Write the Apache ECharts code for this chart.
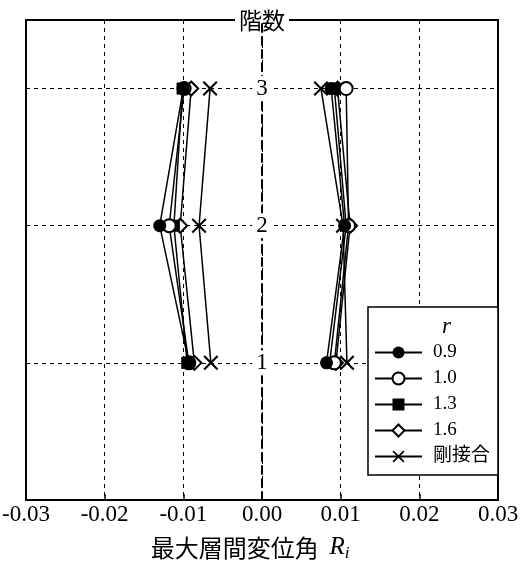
<!DOCTYPE html>
<html>
<head>
<meta charset="utf-8">
<script src="https://cdn.jsdelivr.net/npm/echarts@6/dist/echarts.min.js"></script>
<style>
  html,body{margin:0;padding:0;background:#fff;}
  #chart{width:528px;height:564px;}
</style>
</head>
<body>
<div id="chart"></div>
<script>
// 階数
var stories = [1, 2, 3];
// 左側（負方向）
var r09L = [-0.0093, -0.0130, -0.0100];
var r10L = [-0.0093, -0.0118, -0.0099];
var r13L = [-0.0095, -0.0112, -0.0101];
var r16L = [-0.0086, -0.0104, -0.0090];
var rigidL = [-0.0065, -0.0080, -0.0066];
// 右側（正方向）
var r09R = [0.0082, 0.0105, 0.0088];
var r10R = [0.0092, 0.0110, 0.0107];
var r13R = [0.0086, 0.0107, 0.0092];
var r16R = [0.0094, 0.0112, 0.0096];
var rigidR = [0.0108, 0.0103, 0.0075];

var xTicks = [-0.03, -0.02, -0.01, 0, 0.01, 0.02, 0.03];
var names = ['0.9', '1.0', '1.3', '1.6', '剛接合'];

var crossPath = 'path://M0,1L1,0L5,4L9,0L10,1L6,5L10,9L9,10L5,6L1,10L0,9L4,5Z';
var marks = [
  {symbol: 'circle', fill: '#000', size: 13},
  {symbol: 'circle', fill: '#fff', size: 13},
  {symbol: 'rect', fill: '#000', size: 12},
  {symbol: 'diamond', fill: '#fff', size: 14},
  {symbol: crossPath, fill: '#000', size: 15}
];
var leftSets = [r09L, r10L, r13L, r16L, rigidL];
var rightSets = [r09R, r10R, r13R, r16R, rigidR];

function pts(vals){
  return vals.map(function(v, i){ return [v, stories[i]]; });
}

var series = [];
names.forEach(function(n, k){
  [leftSets[k], rightSets[k]].forEach(function(vals){
    series.push({
      name: n,
      type: 'line',
      data: pts(vals),
      symbol: marks[k].symbol,
      symbolSize: marks[k].size,
      showAllSymbol: true,
      z: 10 - k,
      lineStyle: {color: '#000', width: 1.5},
      itemStyle: {
        color: marks[k].fill,
        borderColor: '#000',
        borderWidth: marks[k].fill === '#fff' ? 2 : 0
      }
    });
  });
});

var myChart = echarts.init(document.getElementById('chart'));
myChart.setOption({
  animation: false,
  backgroundColor: '#fff',
  grid: {
    left: 26, right: 30, top: 20, bottom: 64,
    outerBoundsMode: 'none',
    containLabel: false,
    show: true, borderColor: '#000', borderWidth: 2, backgroundColor: 'transparent'
  },
  legend: {
    data: names,
    orient: 'vertical',
    right: 30,
    top: 307,
    itemWidth: 47,
    itemHeight: 15,
    itemGap: 7,
    padding: [36, 8, 9, 6],
    backgroundColor: '#fff',
    borderColor: '#000',
    borderWidth: 1.5,
    textStyle: {
      color: '#000',
      fontSize: 19,
      lineHeight: 18,
      fontFamily: 'Liberation Serif, Noto Sans CJK JP',
      padding: [0, 0, 0, 6]
    }
  },
  graphic: [{
    type: 'text',
    left: 442,
    top: 315,
    z: 100,
    style: {
      text: 'r',
      fill: '#000',
      font: 'italic 23px Liberation Serif'
    }
  }],
  xAxis: {
    type: 'value',
    min: -0.03,
    max: 0.03,
    interval: 0.01,
    axisLine: {show: true, onZero: false, lineStyle: {color: '#000', width: 2}},
    axisTick: {show: true, inside: true, length: 6, lineStyle: {color: '#000', width: 1.5}},
    axisLabel: {
      color: '#000',
      fontSize: 23,
      fontFamily: 'Liberation Serif',
      margin: 3,
      formatter: function(v){ return Math.abs(v) < 1e-9 ? '0.00' : v.toFixed(2); }
    },
    splitLine: {show: true, lineStyle: {color: '#000', width: 1, type: [4, 4]}},
    name: '最大層間変位角  {i|R}{s|i}',
    nameLocation: 'middle',
    nameGap: 33,
    nameTextStyle: {
      color: '#000',
      fontSize: 24,
      fontFamily: 'Noto Sans CJK JP',
      padding: [0, 24, 0, 0],
      rich: {
        i: {fontSize: 25, fontStyle: 'italic', fontFamily: 'Liberation Serif', color: '#000'},
        s: {fontSize: 17, fontStyle: 'italic', fontFamily: 'Liberation Serif', color: '#000', padding: [12, 0, 0, 0]}
      }
    }
  },
  yAxis: {
    type: 'value',
    min: 0,
    max: 3.5,
    interval: 1,
    position: 'left',
    offset: -236,
    axisLine: {show: true, onZero: false, lineStyle: {color: '#000', width: 2, type: [8, 5]}},
    axisTick: {show: false},
    axisLabel: {
      color: '#000',
      fontSize: 23,
      fontFamily: 'Liberation Serif',
      margin: 0,
      align: 'center',
      backgroundColor: '#fff',
      padding: [1, 4],
      showMinLabel: false,
      showMaxLabel: false
    },
    splitLine: {show: true, lineStyle: {color: '#000', width: 1, type: [4, 4]}},
    name: '階数',
    nameLocation: 'end',
    nameGap: 0,
    nameTextStyle: {
      color: '#000',
      fontSize: 23,
      fontFamily: 'Noto Sans CJK JP',
      verticalAlign: 'middle',
      align: 'center',
      backgroundColor: '#fff',
      padding: [0, 4]
    }
  },
  series: series
});
</script>
</body>
</html>
